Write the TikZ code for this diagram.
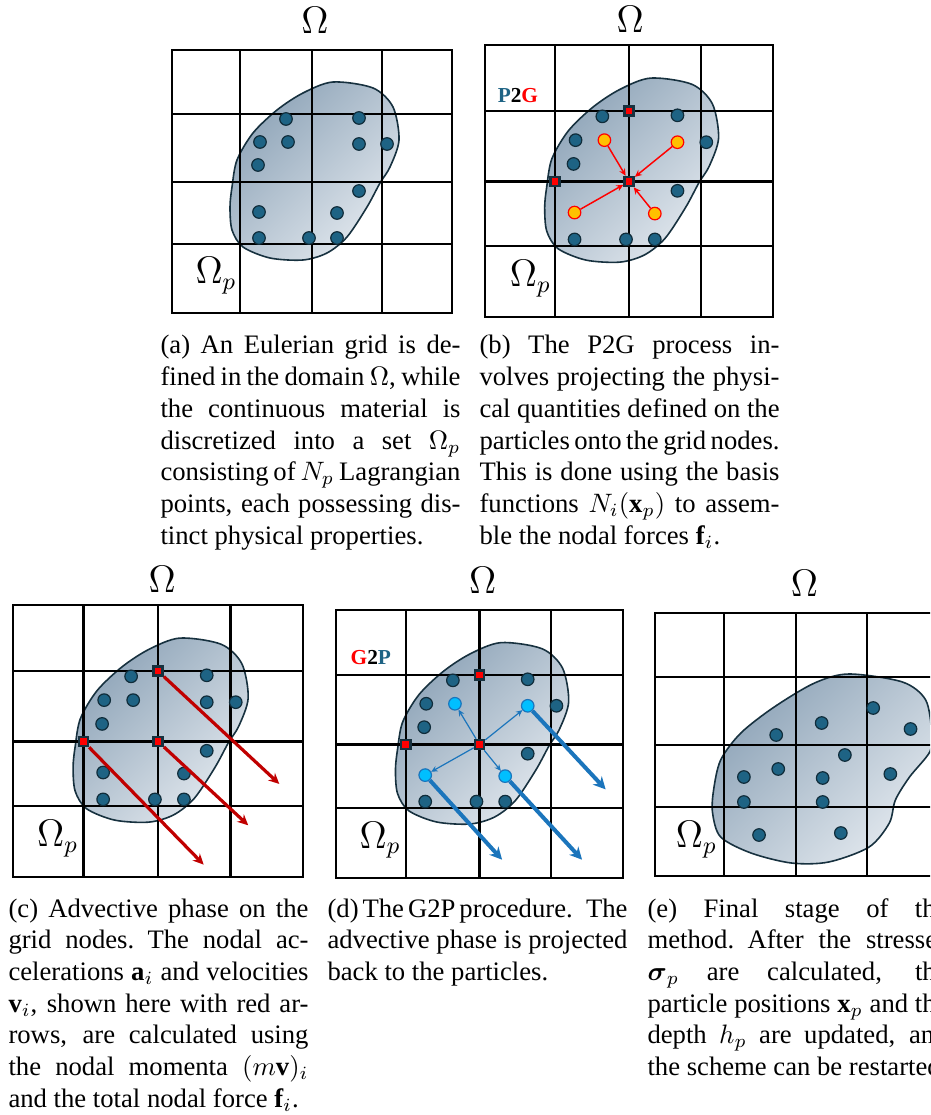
\documentclass[tikz,border=0pt]{standalone}
\usepackage{fontspec}
\setmainfont{Liberation Serif}
\newfontfamily\capfont{Liberation Serif}
\usepackage{amsmath}
\usepackage{tikz}
\usetikzlibrary{arrows.meta}
\definecolor{blobdk}{HTML}{8EA4B8}
\definecolor{bloblt}{HTML}{E2E8EE}
\definecolor{blobln}{HTML}{17313F}
\definecolor{partc}{HTML}{1E6384}
\definecolor{partln}{HTML}{102C3A}
\definecolor{advred}{HTML}{C00000}
\definecolor{gblue}{HTML}{1B75BC}
\definecolor{cyanp}{HTML}{00BFFF}
\definecolor{yelp}{HTML}{FFC000}
\definecolor{pblue}{HTML}{1E6384}
% particle positions in the frame of one panel
\newcommand{\partlist}{1/114/69,2/187/68,3/88/92,4/116/92,5/187/94,6/215/94,7/86/115,8/187/141,9/87/162,10/165/163,11/87/188,12/137/188,13/165/188}
\newcommand{\darkset}{1,2,3,6,7,8,11,12,13}
\newcommand{\liteset}{4,5,9,10}
% one justified caption line, and the last one
\newcommand{\capline}[1]{\hbox to 112.5pt{\spaceskip=0.25em plus 0.6em minus 0.1em\relax #1}}
\newcommand{\capend}[1]{\hbox{\spaceskip=0.25em minus 0.05em\relax #1}}
\newcommand{\eulergrid}{%
  \draw[gridln] (0,0) rectangle (280,263);
  \foreach \gx in {68,140,210} \draw[gridln] (\gx,0) -- (\gx,263);
  \foreach \gy in {64,132,194} \draw[gridln] (0,\gy) -- (280,\gy);}
\newcommand{\blobshape}{%
  \draw[blob] plot[smooth cycle] coordinates {(161,32) (201,38) (221,57) (227,90) (218,117) (208,133) (195,157) (175,187) (155,203) (131,210) (98,208) (71,197) (60,180) (58,157) (60,137) (65,110) (81,83) (105,60) (131,43)};}
\tikzset{
  gridln/.style={line width=0.8pt, draw=black},
  blob/.style={draw=blobln, line width=0.6pt, top color=blobdk, bottom color=bloblt, shading angle=45},
  part/.style={circle, draw=partln, line width=0.45pt, fill=partc, inner sep=0pt, minimum size=4.7pt},
  ypart/.style={part, draw=red, fill=yelp},
  cpart/.style={part, draw=gblue, fill=cyanp},
  gnode/.style={rectangle, draw=blobln, line width=0.95pt, fill=red, inner sep=0pt, minimum size=3.4pt},
  omega/.style={font=\fontsize{13.5}{16}\selectfont, inner sep=0pt},
  tag/.style={font=\capfont\fontsize{8}{9}\selectfont\bfseries, inner sep=0pt},
  capbox/.style={anchor=base west, text width=112.5pt, inner sep=0pt, font=\capfont\fontsize{10}{11.9}\selectfont},
  p2garr/.style={-{Stealth[length=2.6pt, width=2.4pt]}, line width=0.55pt, draw=red},
  advarr/.style={-{Stealth[length=4pt, width=3.8pt]}, line width=1.2pt, draw=advred},
  g2parr/.style={-{Stealth[length=2.4pt, width=2.2pt]}, line width=0.45pt, draw=gblue},
  movarr/.style={-{Stealth[length=4.6pt, width=4.6pt]}, line width=1.5pt, draw=gblue},
}
\begin{document}
\begin{tikzpicture}[x=0.375pt, y=-0.375pt]
  \path[use as bounding box, clip] (0,0) rectangle (930,1115);
  % (a) grid and particles
  \begin{scope}[shift={(172,50)}]
    \blobshape
    \eulergrid
    \foreach \i/\x/\y in \partlist {\node[part] (a\i) at (\x,\y) {};}
    \node[omega] (oma) at (143,-30) {$\Omega$};
    \node[omega] (opa) at (44,226) {$\Omega_p$};
  \end{scope}
  % (b) P2G
  \begin{scope}[shift={(485,45)}, xscale=1.029, yscale=1.034]
    \blobshape
    \eulergrid
    \foreach \i/\x/\y in \partlist {\coordinate (q\i) at (\x,\y);}
    \foreach \i in \darkset {\node[part] (b\i) at (q\i) {};}
    \foreach \i in \liteset {\node[ypart] (b\i) at (q\i) {};}
    \node[gnode] (bn12) at (140,64) {};
    \node[gnode] (bn21) at (68,132) {};
    \node[gnode] (bn22) at (140,132) {};
    \foreach \i in \liteset {\draw[p2garr] (b\i) -- (bn22);}
    \node[tag] (labb) at (32,49) {\textcolor{pblue}{P}2\textcolor{red}{G}};
    \node[omega] (omb) at (141,-25) {$\Omega$};
    \node[omega] (opb) at (44,226) {$\Omega_p$};
  \end{scope}
  % (c) advection on the grid
  \begin{scope}[shift={(13,605)}, xscale=1.036, yscale=1.034]
    \blobshape
    \eulergrid
    \foreach \i/\x/\y in \partlist {\node[part] (c\i) at (\x,\y) {};}
    \node[gnode] (cn12) at (140,64) {};
    \node[gnode] (cn21) at (68,132) {};
    \node[gnode] (cn22) at (140,132) {};
    \coordinate (ce12) at (257,173);
    \coordinate (ce21) at (184,251);
    \coordinate (ce22) at (227,213);
    \draw[advarr] (cn12) -- (ce12);
    \draw[advarr] (cn21) -- (ce21);
    \draw[advarr] (cn22) -- (ce22);
    \node[omega] (omc) at (144,-25) {$\Omega$};
    \node[omega] (opc) at (43,226) {$\Omega_p$};
  \end{scope}
  % (d) G2P
  \begin{scope}[shift={(336,610)}, xscale=1.025, yscale=1.019]
    \blobshape
    \eulergrid
    \foreach \i/\x/\y in \partlist {\coordinate (q\i) at (\x,\y);}
    \foreach \i in \darkset {\node[part] (d\i) at (q\i) {};}
    \foreach \i in \liteset {\node[cpart] (d\i) at (q\i) {};}
    \node[gnode] (dn12) at (140,64) {};
    \node[gnode] (dn21) at (68,132) {};
    \node[gnode] (dn22) at (140,132) {};
    \foreach \i in \liteset {\draw[g2parr] (dn22) -- (d\i);}
    \coordinate (de5) at (263,176);
    \coordinate (de9) at (162,245);
    \coordinate (de10) at (240,245);
    \draw[movarr] (d5) -- (de5);
    \draw[movarr] (d9) -- (de9);
    \draw[movarr] (d10) -- (de10);
    \node[tag] (labd) at (34,47) {\textcolor{red}{G}2\textcolor{pblue}{P}};
    \node[omega] (omd) at (143,-29) {$\Omega$};
    \node[omega] (opd) at (43,226) {$\Omega_p$};
  \end{scope}
  % (e) updated particles
  \begin{scope}[shift={(655,613)}, xscale=1.01]
    \draw[blob] plot[smooth cycle] coordinates {(192,61) (245,69) (268,87) (274,120) (272,139) (252,164) (238,187) (232,210) (212,234) (172,249) (135,250) (95,240) (65,224) (57,200) (58,177) (65,147) (85,120) (118,94) (158,70)};
    \eulergrid
    \foreach \i/\x/\y in {1/216/95,2/165/110,3/253/116,4/120/122,5/188/142,6/122/156,7/88/164,8/166/165,9/233/161,10/88/189,11/166/189,12/103/222,13/184/220}
      {\node[part] (e\i) at (\x,\y) {};}
    \node[omega] (ome) at (148,-30) {$\Omega$};
    \node[omega] (ope) at (41,227) {$\Omega_p$};
  \end{scope}
  % captions
  \node[capbox] (capa) at (160,354) {\capline{(a) An Eulerian grid is de-}
    \capline{fined in the domain $\Omega$, while}
    \capline{the continuous material is}
    \capline{discretized into a set $\Omega_p$}
    \capline{consisting of $N_p$ Lagrangian}
    \capline{points, each possessing dis-}
    \capend{tinct physical properties.}};
  \node[capbox] (capb) at (479,354) {\capline{(b) The P2G process in-}
    \capline{volves projecting the physi-}
    \capline{cal quantities defined on the}
    \capline{particles onto the grid nodes.}
    \capline{This is done using the basis}
    \capline{functions $N_i(\mathbf{x}_p)$ to assem-}
    \capend{ble the nodal forces $\mathbf{f}_i$.}};
  \node[capbox] (capc) at (8,917) {\capline{(c) Advective phase on the}
    \capline{grid nodes. The nodal ac-}
    \capline{celerations $\mathbf{a}_i$ and velocities}
    \capline{$\mathbf{v}_i$, shown here with red ar-}
    \capline{rows, are calculated using}
    \capline{the nodal momenta $(m\mathbf{v})_i$}
    \capend{and the total nodal force $\mathbf{f}_i$.}};
  \node[capbox] (capd) at (327,917) {\capline{(d) The G2P procedure. The}
    \capline{advective phase is projected}
    \capend{back to the particles.}};
  \node[capbox] (cape) at (647,917) {\capline{(e) Final stage of the}
    \capline{method. After the stresses}
    \capline{$\boldsymbol{\sigma}_p$ are calculated, the}
    \capline{particle positions $\mathbf{x}_p$ and the}
    \capline{depth $h_p$ are updated, and}
    \capend{the scheme can be restarted.}};
\end{tikzpicture}
\end{document}
